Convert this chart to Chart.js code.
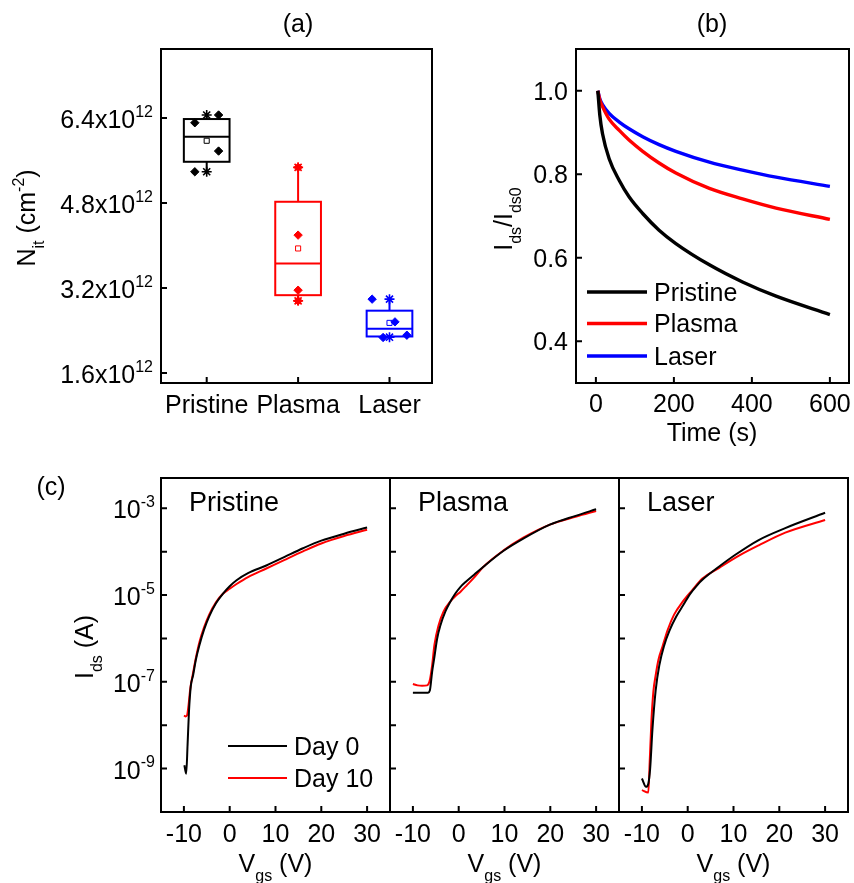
<!DOCTYPE html>
<html>
<head>
<meta charset="utf-8">
<title>Interface traps and bias stability</title>
<script src="https://cdn.jsdelivr.net/npm/chart.js@4"></script>
<style>
  html, body { margin: 0; padding: 0; background: #fff; }
  #fig { position: relative; width: 854px; height: 883px; }
  #fig canvas { position: absolute; left: 0; top: 0; width: 854px; height: 883px; }
</style>
</head>
<body>
<div id="fig">
  <canvas id="panelA" width="854" height="883"></canvas>
  <canvas id="panelB" width="854" height="883"></canvas>
  <canvas id="panelC1" width="854" height="883"></canvas>
  <canvas id="panelC2" width="854" height="883"></canvas>
  <canvas id="panelC3" width="854" height="883"></canvas>
</div>
<script>
// ---- (a) trap density per treatment ----
const cats = ['Pristine', 'Plasma', 'Laser'];
const nitQ1 = [5.576e12, 3.064e12, 2.286e12];
const nitQ3 = [6.381e12, 4.823e12, 2.772e12];
const nitMedian = [6.048e12, 3.662e12, 2.433e12];
const nitMean = [5.972e12, 3.944e12, 2.542e12];
const nitMin = [5.388e12, 2.957e12, 2.273e12];
const nitMax = [6.457e12, 5.471e12, 2.989e12];
const nitPoints = [
  [6.311e12, 6.457e12, 5.778e12, 5.388e12],
  [5.471e12, 4.195e12, 3.158e12, 2.957e12],
  [2.989e12, 2.561e12, 2.267e12, 2.310e12]
];
const nitJitter = [
  [-0.13, 0.13, 0.13, -0.13],
  [0, 0, 0, 0],
  [-0.19, 0.06, -0.07, 0.19]
];
const nitTicks = [1.6e12, 3.2e12, 4.8e12, 6.4e12];

// ---- (b) normalised current vs stress time ----
const timeS = [5, 10, 17, 34, 60, 85, 120, 162, 205, 291, 376, 462, 600];
const ratioPristine = [1.0, 0.942, 0.897, 0.837, 0.785, 0.746, 0.706, 0.666, 0.634, 0.583, 0.542, 0.508, 0.464];
const ratioPlasma = [1.0, 0.978, 0.962, 0.932, 0.905, 0.882, 0.855, 0.827, 0.803, 0.766, 0.741, 0.719, 0.692];
const ratioLaser = [1.0, 0.981, 0.967, 0.946, 0.925, 0.909, 0.890, 0.871, 0.855, 0.829, 0.810, 0.793, 0.771];
const timeTicks = [0, 200, 400, 600];
const ratioTicks = [0.4, 0.6, 0.8, 1.0];

// ---- (c) transfer curves, day 0 and day 10 ----
const vgsTicks = [-10, 0, 10, 20, 30];
const idsTicks = [1e-3, 1e-4, 1e-5, 1e-6, 1e-7, 1e-8, 1e-9];
const idsLabelTicks = [1e-3, 1e-5, 1e-7, 1e-9];

const vgsPristineD0 = [-9.9, -9.5, -9.2, -8.9, -8.5, -8.0, -7.4, -6.6, -5.6, -4.5, -3.0, -1.5, 0, 1.5, 4, 8, 12, 16, 20, 25, 30];
const idsPristineD0 = [1.2e-9, 7.6e-10, 3.5e-9, 2.0e-8, 7.9e-8, 1.4e-7, 3.2e-7, 7.1e-7, 1.6e-6, 3.2e-6, 6.5e-6, 1.07e-5, 1.6e-5, 2.2e-5, 3.2e-5, 4.8e-5, 7.6e-5, 1.2e-4, 1.8e-4, 2.6e-4, 3.6e-4];
const vgsPristineD10 = [-10, -9.6, -9.3, -9.0, -8.6, -8.0, -7.4, -6.6, -5.6, -4.5, -3.0, -1.5, 0, 1.5, 4, 8, 12, 16, 20, 25, 30];
const idsPristineD10 = [1.66e-8, 1.6e-8, 1.7e-8, 2.8e-8, 7.1e-8, 1.6e-7, 3.5e-7, 8.3e-7, 1.8e-6, 3.5e-6, 6.8e-6, 1.07e-5, 1.4e-5, 1.8e-5, 2.6e-5, 4.1e-5, 6.5e-5, 1.02e-4, 1.55e-4, 2.3e-4, 3.2e-4];

const vgsPlasmaD0 = [-10, -8, -6.7, -6.3, -5.8, -5.4, -4.7, -4.0, -2.9, -1.8, -0.7, 0.4, 1.5, 3.3, 5.4, 9.8, 14.1, 19.9, 25.7, 30];
const idsPlasmaD0 = [5.6e-8, 5.6e-8, 5.6e-8, 6.3e-8, 1.7e-7, 3.2e-7, 1.0e-6, 2.0e-6, 4.2e-6, 7.1e-6, 1.1e-5, 1.55e-5, 2.0e-5, 2.9e-5, 4.5e-5, 1.05e-4, 2.0e-4, 4.2e-4, 6.8e-4, 9.5e-4];
const vgsPlasmaD10 = [-10, -9, -8, -6.9, -6.3, -5.8, -5.3, -4.4, -3.3, -1.8, -0.7, 0.4, 1.8, 3.3, 5.4, 9.8, 14.1, 19.9, 25.7, 30];
const idsPlasmaD10 = [8.9e-8, 8.3e-8, 8.1e-8, 8.3e-8, 1.1e-7, 2.4e-7, 7.1e-7, 2.0e-6, 4.2e-6, 7.2e-6, 9.5e-6, 1.2e-5, 1.7e-5, 2.5e-5, 4.5e-5, 1.07e-4, 2.1e-4, 4.2e-4, 6.5e-4, 8.7e-4];

const vgsLaserD0 = [-10, -9.1, -8.6, -8.2, -7.7, -7.0, -6.2, -5.1, -4.0, -2.5, -1.0, 0.5, 2.0, 3.5, 6.8, 10.4, 15.5, 21.3, 30];
const idsLaserD0 = [5.9e-10, 3.8e-10, 4.5e-10, 1.0e-9, 7.9e-9, 6.3e-8, 2.4e-7, 7.1e-7, 1.5e-6, 3.2e-6, 5.8e-6, 1.05e-5, 1.66e-5, 2.4e-5, 4.5e-5, 8.5e-5, 1.86e-4, 3.5e-4, 7.9e-4];
const vgsLaserD10 = [-10, -8.6, -8.3, -7.9, -7.5, -7.0, -6.4, -5.5, -4.4, -3.0, -1.2, 1.0, 3.2, 6.8, 11.2, 15.5, 21.3, 30];
const idsLaserD10 = [3.2e-10, 2.8e-10, 1.4e-9, 1.4e-8, 5.9e-8, 1.4e-7, 3.2e-7, 6.5e-7, 1.55e-6, 3.5e-6, 6.8e-6, 1.3e-5, 2.4e-5, 4.2e-5, 8.1e-5, 1.4e-4, 2.75e-4, 5.4e-4];

// ---- styling ----
const W = 854, H = 883;
const FONT = '"Liberation Sans", Arial, sans-serif';
const TICK = 6;
const seriesColors = ['#000000', '#ff0000', '#0000ff'];
const boxHalf = 0.25;

const xy = (xs, ys) => xs.map((v, i) => ({x: v, y: ys[i]}));

// text with sub/superscript pieces: 'text' or ['text', 'sub'|'sup']
function drawRich(ctx, parts, x, y, align, size) {
  size = size || 25;
  const small = Math.round(size * 0.64);
  const segs = parts.map(p => typeof p === 'string'
    ? {t: p, s: size, dy: 0}
    : {t: p[0], s: small, dy: p[1] === 'sub' ? size * 0.36 : -size * 0.45});
  let w = 0;
  segs.forEach(s => { ctx.font = s.s + 'px ' + FONT; s.w = ctx.measureText(s.t).width; w += s.w; });
  let cx = align === 'center' ? x - w / 2 : align === 'right' ? x - w : x;
  ctx.textAlign = 'left';
  ctx.textBaseline = 'alphabetic';
  segs.forEach(s => { ctx.font = s.s + 'px ' + FONT; ctx.fillText(s.t, cx, y + s.dy); cx += s.w; });
}

function drawRotated(ctx, parts, x, y) {
  ctx.save();
  ctx.translate(x, y);
  ctx.rotate(-Math.PI / 2);
  drawRich(ctx, parts, 0, 0, 'center');
  ctx.restore();
}

// closed frame, inward ticks, tick labels and extra decoration
function frame(o) {
  return {
    id: 'frame',
    afterDraw(chart) {
      const {ctx, chartArea: a, scales: {x, y}} = chart;
      ctx.save();
      ctx.strokeStyle = '#000';
      ctx.fillStyle = '#000';
      ctx.lineWidth = 2;
      ctx.strokeRect(a.left, a.top, a.right - a.left, a.bottom - a.top);
      ctx.beginPath();
      o.xTicks.forEach(v => {
        const p = x.getPixelForValue(v);
        ctx.moveTo(p, a.bottom); ctx.lineTo(p, a.bottom - TICK);
      });
      o.yTicks.forEach(v => {
        const p = y.getPixelForValue(v);
        ctx.moveTo(a.left, p); ctx.lineTo(a.left + TICK, p);
      });
      ctx.stroke();
      if (o.xLabel) o.xTicks.forEach(v => drawRich(ctx, o.xLabel(v), x.getPixelForValue(v), o.xBase, 'center'));
      if (o.yLabel) (o.yLabelTicks || o.yTicks).forEach(v =>
        drawRich(ctx, o.yLabel(v), a.left - o.yGap, y.getPixelForValue(v) + o.yOff, 'right'));
      if (o.extra) o.extra(ctx, chart);
      ctx.restore();
    }
  };
}

function baseOptions(area, xScale, yScale) {
  return {
    responsive: false,
    animation: false,
    devicePixelRatio: 1,
    events: [],
    layout: {padding: {left: area[0], top: area[1], right: W - area[2], bottom: H - area[3]}},
    plugins: {legend: {display: false}, tooltip: {enabled: false}},
    scales: {x: Object.assign({display: false}, xScale), y: Object.assign({display: false}, yScale)}
  };
}

// ---------- panel (a): box chart ----------
const boxes = {
  id: 'boxes',
  beforeDatasetsDraw(chart) {
    const {ctx, scales: {x, y}} = chart;
    ctx.save();
    ctx.lineWidth = 2;
    cats.forEach((c, i) => {
      const xl = x.getPixelForValue(i - boxHalf), xr = x.getPixelForValue(i + boxHalf), xc = x.getPixelForValue(i);
      const yq1 = y.getPixelForValue(nitQ1[i]), yq3 = y.getPixelForValue(nitQ3[i]);
      ctx.strokeStyle = seriesColors[i];
      ctx.strokeRect(xl, yq3, xr - xl, yq1 - yq3);
      ctx.beginPath();
      const ym = y.getPixelForValue(nitMedian[i]);
      ctx.moveTo(xl, ym); ctx.lineTo(xr, ym);
      ctx.moveTo(xc, yq3); ctx.lineTo(xc, y.getPixelForValue(nitMax[i]));
      ctx.moveTo(xc, yq1); ctx.lineTo(xc, y.getPixelForValue(nitMin[i]));
      ctx.stroke();
    });
    ctx.restore();
  }
};

const aSets = [];
cats.forEach((c, i) => {
  aSets.push({
    label: c + ' points',
    data: nitPoints[i].map((v, k) => ({x: i + nitJitter[i][k], y: v})),
    pointStyle: 'rectRot', pointRadius: 4.2, borderWidth: 1,
    backgroundColor: seriesColors[i], borderColor: seriesColors[i]
  });
  aSets.push({
    label: c + ' range',
    data: [{x: i, y: nitMin[i]}, {x: i, y: nitMax[i]}],
    pointStyle: 'star', pointRadius: 5, borderWidth: 1.6,
    backgroundColor: seriesColors[i], borderColor: seriesColors[i]
  });
  aSets.push({
    label: c + ' mean',
    data: [{x: i, y: nitMean[i]}],
    pointStyle: 'rect', pointRadius: 3.6, borderWidth: 1,
    backgroundColor: '#ffffff', borderColor: seriesColors[i]
  });
});

new Chart(document.getElementById('panelA'), {
  type: 'scatter',
  data: {datasets: aSets},
  options: baseOptions([161, 49, 432, 383], {type: 'linear', min: -0.5, max: 2.465}, {type: 'linear', min: 1.41e12, max: 7.7e12}),
  plugins: [boxes, frame({
    xTicks: [0, 1, 2], yTicks: nitTicks,
    xLabel: v => [cats[v]], xBase: 413,
    yLabel: v => [(v / 1e12).toFixed(1) + 'x10', ['12', 'sup']], yGap: 8, yOff: 10,
    extra(ctx) {
      drawRich(ctx, ['(a)'], 298, 32, 'center');
      drawRotated(ctx, ['N', ['it', 'sub'], ' (cm', ['-2', 'sup'], ')'], 35, 218);
    }
  })]
});

// ---------- panel (b): current decay ----------
const bRows = [['Pristine', ratioPristine], ['Plasma', ratioPlasma], ['Laser', ratioLaser]];
new Chart(document.getElementById('panelB'), {
  type: 'scatter',
  data: {
    datasets: bRows.map((r, i) => ({
      label: r[0], data: xy(timeS, r[1]), showLine: true, pointRadius: 0,
      borderColor: seriesColors[i], borderWidth: 3.4, cubicInterpolationMode: 'monotone'
    }))
  },
  options: baseOptions([576, 49, 849, 383], {type: 'linear', min: -51, max: 649}, {type: 'linear', min: 0.3, max: 1.1}),
  plugins: [frame({
    xTicks: timeTicks, yTicks: ratioTicks,
    xLabel: v => [String(v)], xBase: 412,
    yLabel: v => [v.toFixed(1)], yGap: 8, yOff: 9,
    extra(ctx, chart) {
      drawRich(ctx, ['(b)'], 712, 32, 'center');
      drawRich(ctx, ['Time (s)'], 712, 441, 'center');
      drawRotated(ctx, ['I', ['ds', 'sub'], '/I', ['ds0', 'sub']], 512, 219);
      const rowsY = [292, 323.5, 356];
      chart.data.datasets.forEach((d, i) => {
        ctx.strokeStyle = d.borderColor;
        ctx.lineWidth = 3.4;
        ctx.beginPath(); ctx.moveTo(587, rowsY[i]); ctx.lineTo(647, rowsY[i]); ctx.stroke();
        drawRich(ctx, [d.label], 654, rowsY[i] + 8.5, 'left');
      });
    }
  })]
});

// ---------- panel (c): transfer curves ----------
const cPanels = [
  {id: 'panelC1', name: 'Pristine', area: [161, 478, 390, 812], d0: [vgsPristineD0, idsPristineD0], d10: [vgsPristineD10, idsPristineD10]},
  {id: 'panelC2', name: 'Plasma', area: [390, 478, 619, 812], d0: [vgsPlasmaD0, idsPlasmaD0], d10: [vgsPlasmaD10, idsPlasmaD10]},
  {id: 'panelC3', name: 'Laser', area: [619, 478, 848, 812], d0: [vgsLaserD0, idsLaserD0], d10: [vgsLaserD10, idsLaserD10]}
];

cPanels.forEach((p, k) => {
  const first = k === 0;
  new Chart(document.getElementById(p.id), {
    type: 'scatter',
    data: {
      datasets: [
        {label: 'Day 0', data: xy(p.d0[0], p.d0[1]), showLine: true, pointRadius: 0,
         borderColor: '#000000', borderWidth: 2, cubicInterpolationMode: 'monotone'},
        {label: 'Day 10', data: xy(p.d10[0], p.d10[1]), showLine: true, pointRadius: 0,
         borderColor: '#ff0000', borderWidth: 2, cubicInterpolationMode: 'monotone'}
      ]
    },
    options: baseOptions(p.area, {type: 'linear', min: -15, max: 35}, {type: 'logarithmic', min: 1e-10, max: 5e-3}),
    plugins: [frame({
      xTicks: vgsTicks, yTicks: idsTicks,
      xLabel: v => [String(v)], xBase: 842,
      yLabel: first ? (v => ['10', [String(Math.round(Math.log10(v))), 'sup']]) : null,
      yLabelTicks: idsLabelTicks, yGap: 6, yOff: 10,
      extra(ctx, chart) {
        const a = chart.chartArea;
        drawRich(ctx, [p.name], a.left + 28, 510.5, 'left', 27);
        drawRich(ctx, ['V', ['gs', 'sub'], ' (V)'], (a.left + a.right) / 2, 872, 'center');
        if (first) {
          drawRich(ctx, ['(c)'], 51, 495, 'center');
          drawRotated(ctx, ['I', ['ds', 'sub'], ' (A)'], 93, 647);
          const rowsY = [746, 778];
          chart.data.datasets.forEach((d, i) => {
            ctx.strokeStyle = d.borderColor;
            ctx.lineWidth = 2;
            ctx.beginPath(); ctx.moveTo(228, rowsY[i]); ctx.lineTo(287, rowsY[i]); ctx.stroke();
            drawRich(ctx, [d.label], 294, rowsY[i] + 9, 'left');
          });
        }
      }
    })]
  });
});
</script>
</body>
</html>
